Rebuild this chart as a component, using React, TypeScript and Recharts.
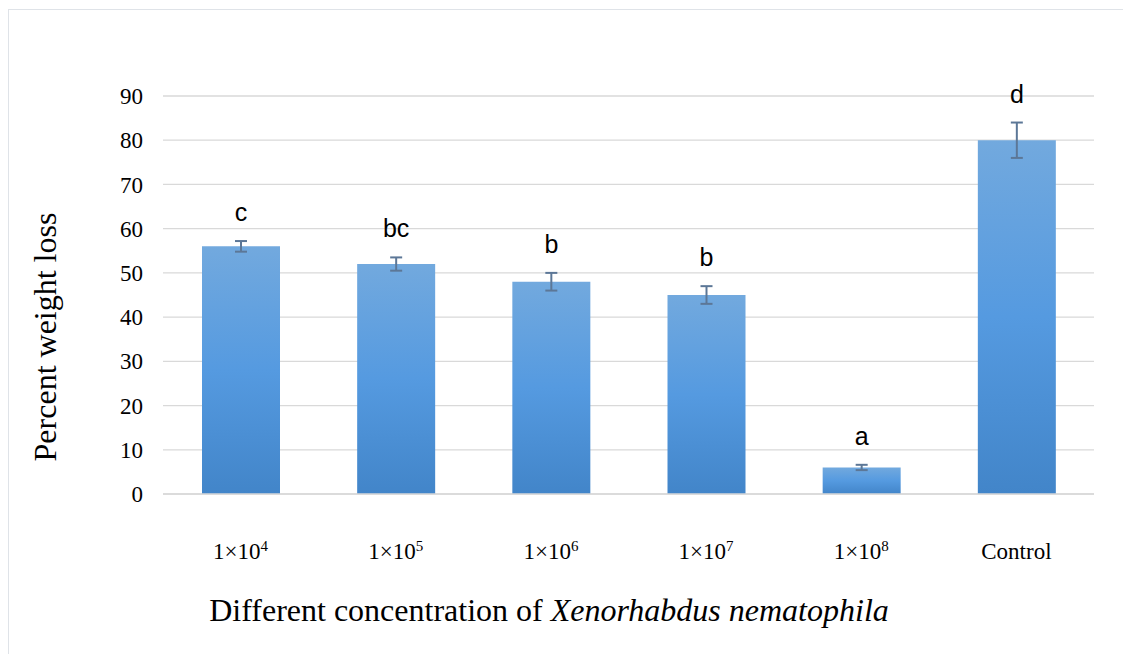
import { BarChart, Bar, XAxis, YAxis, CartesianGrid, ErrorBar, LabelList, Label } from "recharts";

// page is the chart: no body margin
document.body.style.margin = "0";
document.body.style.overflow = "hidden";

const categories = ["1×10^4", "1×10^5", "1×10^6", "1×10^7", "1×10^8", "Control"];
const meanLoss = [56, 52, 48, 45, 6, 80];
const errLoss = [1.2, 1.5, 2, 2, 0.6, 4];
const letters = ["c", "bc", "b", "b", "a", "d"];
const yTicks = [0, 10, 20, 30, 40, 50, 60, 70, 80, 90];

const data = categories.map((name, i) => ({
  name,
  loss: meanLoss[i],
  err: errLoss[i],
  letter: letters[i],
}));

const serif = "'Liberation Serif', 'Times New Roman', serif";
const sans = "'Liberation Sans', Arial, sans-serif";

const XTick = (props: any) => {
  const { x, y, payload } = props;
  const [base, exp] = String(payload.value).split("^");
  return (
    <text x={x} y={y + 63} textAnchor="middle" fontFamily={serif} fontSize={23} fill="#000">
      {base}
      {exp && (
        <tspan fontSize={15} dy={-8}>
          {exp}
        </tspan>
      )}
    </text>
  );
};

const LetterLabel = (props: any) => {
  const { x, y, width, height, value, index } = props;
  const pxPerUnit = height / meanLoss[index];
  const top = y - errLoss[index] * pxPerUnit;
  return (
    <text x={x + width / 2} y={top - 20} textAnchor="middle" fontFamily={sans} fontSize={25} fill="#000">
      {value}
    </text>
  );
};

const YTitle = () => (
  <text
    x={45}
    y={337}
    transform="rotate(-90 45 337)"
    textAnchor="middle"
    dominantBaseline="central"
    fontFamily={serif}
    fontSize={32}
    fill="#000"
  >
    Percent weight loss
  </text>
);

const XTitle = () => (
  <text x={549} y={621} textAnchor="middle" fontFamily={serif} fontSize={32} fill="#000">
    Different concentration of <tspan fontStyle="italic">Xenorhabdus nematophila</tspan>
  </text>
);

export default function App() {
  return (
    <div style={{ position: "relative", width: 1123, height: 654, background: "#fff", overflow: "hidden" }}>
      <div
        style={{
          position: "absolute",
          left: 8,
          top: 9,
          width: 1140,
          height: 680,
          border: "1.5px solid #dfe3e8",
          boxSizing: "border-box",
        }}
      />
      <BarChart
        width={1123}
        height={654}
        data={data}
        margin={{ top: 96, right: 29, bottom: 0, left: 0 }}
        style={{ position: "absolute", left: 0, top: 0 }}
      >
        <defs>
          <linearGradient id="barFill" x1="0" y1="0" x2="0" y2="1">
            <stop offset="0%" stopColor="#72a9de" />
            <stop offset="50%" stopColor="#559ae0" />
            <stop offset="100%" stopColor="#4285c9" />
          </linearGradient>
        </defs>
        <CartesianGrid vertical={false} stroke="#d9d9d9" strokeWidth={1.3} />
        <XAxis
          dataKey="name"
          height={160}
          axisLine={{ stroke: "#d9d9d9", strokeWidth: 1.3 }}
          tickLine={false}
          tickSize={0}
          tick={<XTick />}
          interval={0}
        >
          <Label content={<XTitle />} />
        </XAxis>
        <YAxis
          width={163}
          domain={[0, 90]}
          ticks={yTicks}
          axisLine={false}
          tickLine={false}
          tickSize={0}
          tickMargin={20}
          tick={{ fontFamily: serif, fontSize: 23, fill: "#000" }}
        >
          <Label content={<YTitle />} />
        </YAxis>
        <Bar dataKey="loss" fill="url(#barFill)" barSize={78} isAnimationActive={false}>
          <ErrorBar dataKey="err" width={6} stroke="#5c7797" strokeWidth={2} direction="y" />
          <LabelList dataKey="letter" content={<LetterLabel />} />
        </Bar>
      </BarChart>
    </div>
  );
}
